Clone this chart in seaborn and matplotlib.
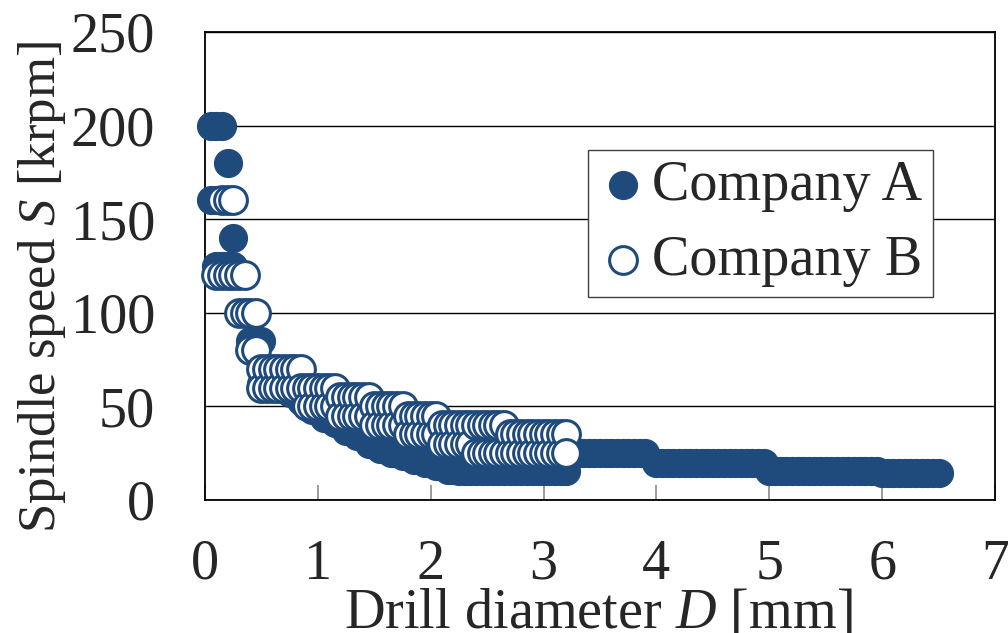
import numpy as np
import pandas as pd
import seaborn as sns
import matplotlib.pyplot as plt

# Drill catalog data: (diameter from, diameter to, speed)
# diameters come in 0.05 mm steps inside each range
step = 0.05

a_from = [0.05, 0.20, 0.05, 0.25, 0.10, 0.40, 0.50, 0.75, 0.85, 0.95, 1.05, 1.15,
          1.25, 1.35, 1.45, 1.55, 1.65, 1.75, 1.85, 1.95, 2.05, 2.15, 2.25, 3.25,
          4.00, 5.00, 6.00]
a_to = [0.15, 0.20, 0.10, 0.25, 0.25, 0.50, 0.70, 0.80, 0.90, 1.00, 1.10, 1.20,
        1.30, 1.40, 1.50, 1.60, 1.70, 1.80, 1.90, 2.00, 2.10, 2.20, 3.20, 3.90,
        4.95, 5.95, 6.50]
a_speed = [200, 180, 160, 140, 125, 85, 62, 57, 53, 48, 44, 41,
           37, 34, 30, 27, 25, 23.5, 21.5, 20, 18, 16, 15.5, 25,
           20, 15.5, 14.5]

b_from = [0.15, 0.10, 0.30, 0.40, 0.50, 0.50, 0.90, 0.90, 1.20, 1.20, 1.50, 1.50,
          1.80, 1.80, 2.10, 2.10, 2.40, 2.70]
b_to = [0.25, 0.35, 0.45, 0.45, 0.85, 0.85, 1.15, 1.15, 1.45, 1.45, 1.75, 1.75,
        2.05, 2.05, 2.65, 2.35, 3.20, 3.20]
b_speed = [160, 120, 100, 80, 70, 60, 60, 50, 55, 45, 50, 40,
           45, 35, 40, 30, 25, 35]

blue = '#1f4a7c'
fs = 40.5


def expand(d_from, d_to, speed, name):
    rows = []
    for d0, d1, s in zip(d_from, d_to, speed):
        for d in np.arange(d0, d1 + 1e-6, step):
            rows.append((round(d, 2), s, name))
    df = pd.DataFrame(rows, columns=['D', 'S', 'company'])
    return df.sort_values(['D', 'S'], ascending=[True, False])


df_a = expand(a_from, a_to, a_speed, 'Company A')
df_b = expand(b_from, b_to, b_speed, 'Company B')

sns.set_style('white')
plt.rcParams['font.family'] = ['Liberation Serif', 'DejaVu Serif']
plt.rcParams['mathtext.fontset'] = 'custom'
plt.rcParams['mathtext.rm'] = 'Liberation Serif'
plt.rcParams['mathtext.it'] = 'Liberation Serif:italic'

fig = plt.figure(figsize=(10.08, 6.33), dpi=100)
ax = fig.add_axes([205 / 1008, 133 / 633, 790 / 1008, 468 / 633])

sns.scatterplot(data=df_a, x='D', y='S', color=blue, edgecolor=blue, s=400,
                linewidth=1, ax=ax, clip_on=False, zorder=3, legend=False)
sns.scatterplot(data=df_b, x='D', y='S', color='white', edgecolor=blue, s=400,
                linewidth=2.2, ax=ax, clip_on=False, zorder=4, legend=False)

ax.set_xlim(0, 7)
ax.set_ylim(0, 250)
ax.set_xticks(range(0, 8))
ax.set_yticks(range(0, 251, 50))
ax.set_xlabel('')
ax.set_ylabel('')
ax.yaxis.grid(True, color='black', linewidth=1.0)
ax.xaxis.grid(False)
ax.set_axisbelow(True)
for sp in ax.spines.values():
    sp.set_visible(True)
    sp.set_color('black')
    sp.set_linewidth(1.3)

ax.tick_params(axis='x', direction='in', length=11, width=1.1, color='#808080',
               pad=28, labelsize=fs, bottom=True)
ax.tick_params(axis='y', length=0, pad=36, labelsize=fs)

fig.text(42 / 1008, 1 - 287 / 633, 'Spindle speed $S$ [krpm]', rotation=90,
         ha='center', va='center', fontsize=38)
fig.text(598 / 1008, 1 - 628 / 633, 'Drill diameter $D$ [mm]',
         ha='center', va='baseline', fontsize=fs)

handles = ax.collections[:2]
leg = ax.legend(handles, ['Company A', 'Company B'], loc='upper left',
                bbox_to_anchor=(588 / 1008, 1 - 150 / 633),
                bbox_transform=fig.transFigure, frameon=True, fancybox=False,
                edgecolor='#404040', framealpha=1, fontsize=fs, borderpad=0.18,
                handlelength=0.89, handletextpad=0.07, labelspacing=0.4,
                borderaxespad=0)
leg.get_frame().set_linewidth(1.0)

plt.savefig('out.png', dpi=100)
